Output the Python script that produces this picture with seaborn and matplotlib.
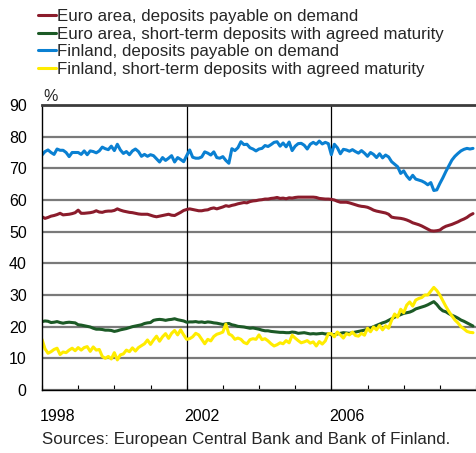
import numpy as np
import pandas as pd
import seaborn as sns
import matplotlib.pyplot as plt

# monthly data, Jan 1998 - Dec 2009 (%)
start_year = 1998
series_names = ['Euro area, deposits payable on demand',
                'Euro area, short-term deposits with agreed maturity',
                'Finland, deposits payable on demand',
                'Finland, short-term deposits with agreed maturity']
series_colors = ['#8b1c2c', '#1c5a26', '#0a80d2', '#ffec00']

euro_demand = [
    54.7, 54.2, 54.5, 54.9, 55.1, 55.4, 55.8, 55.3, 55.4, 55.5, 55.7, 56.0,
    56.8, 55.8, 55.8, 55.9, 56.0, 56.2, 56.6, 56.2, 56.1, 56.4, 56.5, 56.5,
    56.7, 57.2, 56.8, 56.5, 56.3, 56.1, 56.0, 55.8, 55.6, 55.5, 55.5, 55.5,
    55.2, 54.9, 54.7, 54.9, 55.1, 55.3, 55.5, 55.2, 55.1, 55.6, 56.1, 56.7,
    57.0, 57.2, 57.0, 56.8, 56.6, 56.6, 56.8, 56.9, 57.3, 57.5, 57.2, 57.5,
    57.8, 58.2, 58.0, 58.3, 58.5, 58.8, 59.0, 59.2, 59.1, 59.5, 59.7, 59.8,
    60.0, 60.1, 60.3, 60.3, 60.5, 60.6, 60.8, 60.5, 60.6, 60.4, 60.7, 60.6,
    60.8, 60.9, 60.9, 60.9, 60.9, 60.9, 60.9, 60.8, 60.5, 60.4, 60.3, 60.3,
    60.2, 60.0, 59.6, 59.3, 59.3, 59.3, 59.1, 58.8, 58.5, 58.2, 58.0, 57.9,
    57.7, 57.3, 56.8, 56.5, 56.3, 56.1, 55.9, 55.5, 54.6, 54.4, 54.3, 54.2,
    54.0, 53.7, 53.3, 52.8, 52.5, 52.2, 51.8, 51.3, 50.8, 50.3, 50.2, 50.3,
    50.5, 51.2, 51.7, 52.0, 52.3, 52.7, 53.1, 53.6, 54.0, 54.5, 55.2, 55.7]

euro_agreed = [
    21.6, 21.8, 21.7, 21.3, 21.4, 21.6, 21.3, 21.1, 21.3, 21.4, 21.3, 21.2,
    20.6, 20.5, 20.3, 20.1, 19.9, 19.5, 19.2, 19.2, 19.1, 18.9, 18.9, 18.8,
    18.5, 18.7, 19.0, 19.2, 19.4, 19.7, 20.0, 20.2, 20.4, 20.6, 21.0, 21.2,
    21.3, 22.0, 22.2, 22.3, 22.2, 22.0, 22.2, 22.3, 22.5, 22.2, 22.0, 21.8,
    21.4, 21.5, 21.5, 21.6, 21.4, 21.5, 21.3, 21.5, 21.4, 21.2, 21.1, 20.9,
    20.7, 20.9, 21.0, 20.6, 20.4, 20.1, 20.0, 19.9, 19.7, 19.5, 19.6, 19.4,
    19.2, 18.9, 18.7, 18.7, 18.5, 18.4, 18.3, 18.2, 18.2, 18.1, 18.1, 18.3,
    18.2, 17.9, 18.0, 18.1, 17.9, 17.7, 17.8, 17.7, 17.8, 17.9, 17.7, 17.7,
    17.4, 17.5, 17.7, 17.9, 18.1, 18.0, 17.9, 18.1, 18.3, 18.5, 18.7, 18.9,
    19.2, 19.5, 20.0, 20.4, 20.8, 21.2, 21.5, 22.0, 22.5, 23.0, 23.4, 23.8,
    24.2, 24.4, 24.6, 25.0, 25.6, 25.9, 26.2, 26.5, 26.9, 27.4, 27.9, 27.0,
    25.8, 25.0, 24.7, 24.1, 23.6, 23.2, 22.7, 22.1, 21.7, 21.2, 20.7, 20.2]

fin_demand = [
    74.2, 75.3, 75.8, 75.0, 74.4, 76.1, 75.7, 75.7, 75.0, 73.7, 75.0, 75.0,
    75.0, 74.4, 75.5, 74.3, 75.5, 75.3, 74.9, 75.5, 76.7, 76.2, 75.9, 77.0,
    75.6, 77.6, 75.8, 74.7, 75.3, 74.3, 75.5, 76.1, 75.3, 73.8, 74.4, 73.8,
    74.3, 74.0, 73.0, 72.0, 73.4, 72.5, 73.2, 74.0, 72.0, 73.4, 72.8, 72.1,
    74.0, 75.8, 73.5, 73.2, 73.2, 73.6, 75.2, 74.8, 74.2, 75.2, 73.4, 73.2,
    73.7, 72.5, 71.6, 76.2, 75.6, 76.5, 78.4, 77.5, 77.6, 76.5, 76.1, 75.5,
    76.1, 76.3, 77.2, 76.9, 77.5, 78.2, 78.4, 77.0, 78.0, 76.8, 78.3, 75.6,
    77.0, 77.8, 77.9, 77.3, 76.1, 77.6, 78.2, 77.6, 78.6, 77.7, 78.2, 77.8,
    74.3, 77.6, 76.5, 74.6, 76.0, 75.8, 75.4, 75.9, 75.3, 74.8, 75.6, 74.8,
    73.8, 75.0, 74.4, 73.4, 74.6, 73.3, 74.2, 73.6, 72.1, 71.3, 70.5, 68.4,
    69.2, 67.6, 66.5, 67.8, 66.6, 66.3, 66.0, 65.5, 64.8, 65.5, 63.0, 63.2,
    65.2, 67.0, 69.0, 70.8, 72.6, 73.8, 74.7, 75.5, 76.0, 76.3, 76.1, 76.3]

fin_agreed = [
    16.0, 13.0, 11.6, 12.1, 12.8, 13.2, 11.2, 12.0, 11.8, 12.6, 13.2, 12.4,
    13.4, 12.6, 13.4, 13.7, 12.2, 13.6, 12.6, 12.8, 10.6, 10.0, 10.6, 9.8,
    11.8, 9.5, 11.1, 11.4, 12.6, 12.1, 13.3, 12.3, 13.4, 14.0, 14.6, 15.8,
    14.4, 15.8, 17.0, 15.4, 16.8, 17.8, 16.3, 17.9, 18.8, 17.4, 19.0, 17.4,
    16.0, 16.2, 16.8, 17.9, 17.4, 16.0, 14.6, 16.0, 15.5, 16.9, 17.6, 17.9,
    18.3, 20.8, 17.7, 17.2, 16.0, 16.4, 16.0, 15.0, 14.6, 15.9, 16.2, 16.0,
    17.4, 15.9, 16.2, 15.5, 14.6, 13.9, 14.3, 14.9, 14.6, 15.6, 14.9, 17.3,
    16.4, 15.6, 14.9, 15.2, 15.6, 14.8, 15.2, 13.9, 15.3, 14.5, 15.5, 17.8,
    17.8, 16.8, 18.3, 17.4, 16.4, 17.8, 17.4, 18.3, 17.2, 17.0, 17.9, 17.3,
    19.5, 18.4, 19.9, 19.0, 20.4, 19.0, 20.3, 19.5, 22.0, 24.0, 23.0, 25.5,
    24.4, 26.8, 27.8, 26.5, 28.4, 28.9, 29.2, 30.0, 30.0, 31.2, 32.4, 31.4,
    30.0, 28.2, 26.4, 24.8, 23.4, 22.1, 21.2, 20.0, 19.3, 18.5, 18.2, 18.1]

year_labels = ['1998', '2002', '2006']
year_lines = [2002, 2006]

# long form table
t = start_year + np.arange(len(euro_demand)) / 12
frames = []
for name, vals in zip(series_names, [euro_demand, euro_agreed, fin_demand, fin_agreed]):
    frames.append(pd.DataFrame({'date': t, 'value': vals, 'series': name}))
df = pd.concat(frames, ignore_index=True)

sns.set_theme(style='white')
plt.rcParams['font.family'] = ['Liberation Sans', 'DejaVu Sans']

fig = plt.figure(figsize=(4.76, 4.53), dpi=100)
ax = fig.add_axes([42 / 476, 63 / 453, 434 / 476, 285 / 453])

sns.lineplot(data=df, x='date', y='value', hue='series', hue_order=series_names,
             palette=series_colors, linewidth=2.2, ax=ax)

handles, labels = ax.get_legend_handles_labels()
ax.get_legend().remove()
fig.legend(handles, labels, loc='upper left', bbox_to_anchor=(38 / 476, 1 - 9 / 453),
           frameon=False, fontsize=12.2, handlelength=1.05, handletextpad=0.08,
           labelspacing=0.16, borderpad=0, borderaxespad=0)

ax.set_xlim(1998, 2010)
ax.set_ylim(0, 90)
ax.set_xlabel('')
ax.set_ylabel('')

# y axis
ax.set_yticks(range(0, 91, 10))
ax.yaxis.grid(True, color='#7a7a7a', linewidth=1.6)
ax.tick_params(axis='y', length=0, pad=11, labelsize=11.5, colors='black')

# x axis: labels near the middle of the year, small inward ticks at each year
ax.set_xticks([int(y) + 0.42 for y in year_labels])
ax.set_xticklabels(year_labels)
ax.set_xticks(range(1998, 2011), minor=True)
ax.tick_params(axis='x', which='major', length=0, pad=14, labelsize=11.5, colors='black')
ax.tick_params(axis='x', which='minor', direction='in', length=3.5, width=0.8,
               color='black', bottom=True)
for yr in year_lines:
    ax.axvline(yr, color='black', linewidth=0.9, zorder=1)

for s in ['left', 'bottom']:
    ax.spines[s].set_color('black')
    ax.spines[s].set_linewidth(1.0)
ax.spines['top'].set_color('#3c3c3c')
ax.spines['top'].set_linewidth(2.0)
ax.spines['right'].set_visible(False)

fig.text(43 / 476, 1 - 101 / 453, '%', fontsize=11.5, va='baseline')
fig.text(42 / 476, 1 - 444 / 453, 'Sources: European Central Bank and Bank of Finland.',
         fontsize=12.2, va='baseline')

fig.savefig('out.png', dpi=100)
